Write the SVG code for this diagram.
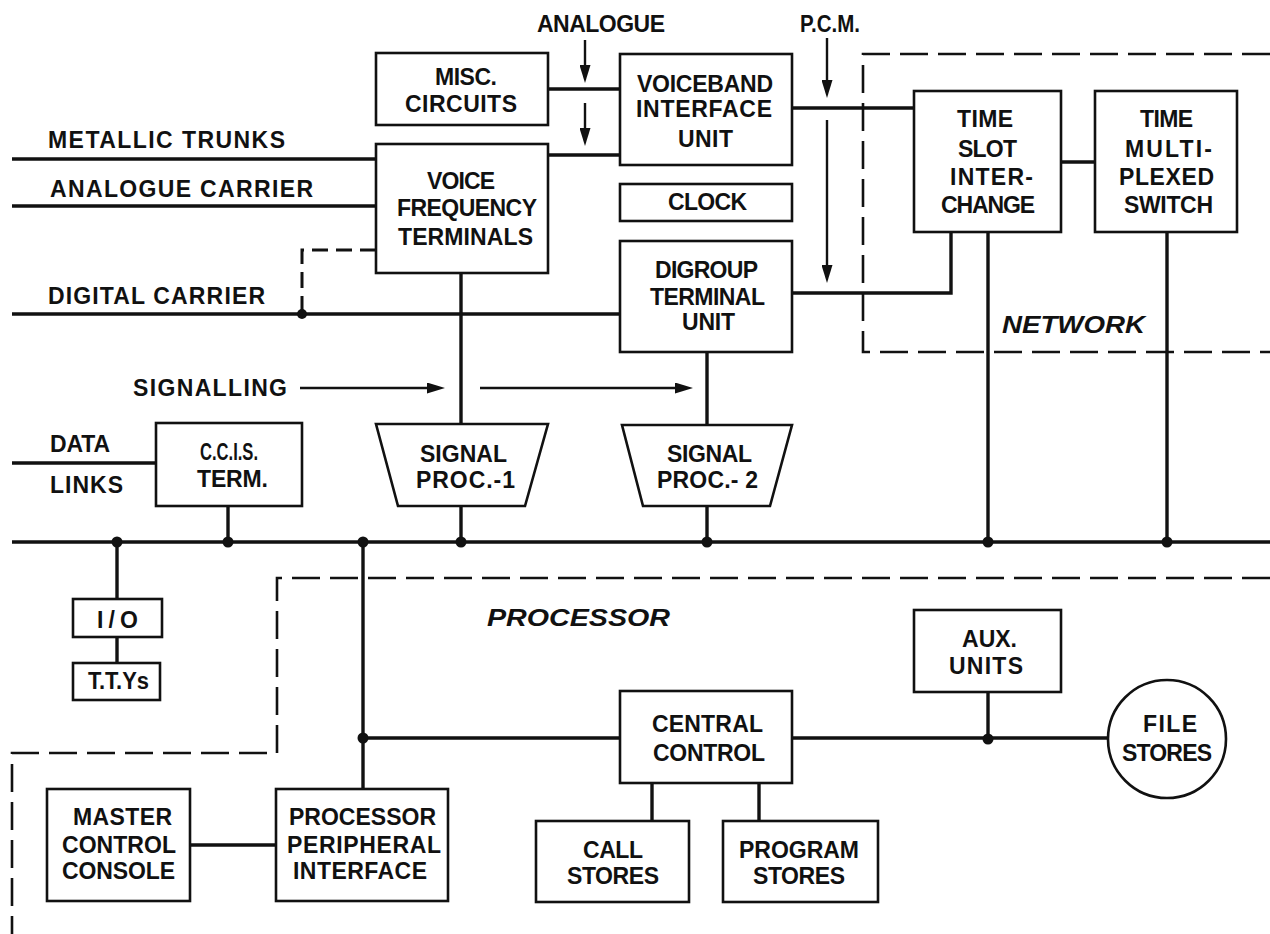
<svg xmlns="http://www.w3.org/2000/svg" width="1270" height="934" viewBox="0 0 1270 934">
<style>
  .bg { fill: #ffffff; }
  .box { fill: #ffffff; stroke: #111; stroke-width: 2.6; }
  .ln { fill: none; stroke: #111; stroke-width: 3.4; stroke-linejoin: miter; }
  .arr { fill: none; stroke: #111; stroke-width: 2.4; }
  .dash { fill: none; stroke: #111; stroke-width: 2.6; stroke-dasharray: 28 10; }
  .dash2 { fill: none; stroke: #111; stroke-width: 3; stroke-dasharray: 16 8; }
  .dot { fill: #111; }
  text { font-family: "Liberation Sans", Arial, sans-serif; font-weight: bold; font-size: 23px; fill: #111; }
  .it { font-style: italic; font-size: 24px; }
</style>
<defs>
  <marker id="ah" viewBox="0 0 18 11" refX="9" refY="5.5" markerWidth="18" markerHeight="11" markerUnits="userSpaceOnUse" orient="auto">
    <path d="M0,0 L18,5.5 L0,11 z" fill="#111"/>
  </marker>
</defs>
<rect class="bg" x="0" y="0" width="1270" height="934"/>

<g id="boundaries">
  <path class="dash" d="M1270,54 H863 V352 H1270"/>
  <path class="dash" d="M1270,578 H277 V753 H12 V934"/>
</g>

<g id="connectors">
  <path class="ln" d="M12,159 H376"/>
  <path class="ln" d="M12,206 H376"/>
  <path class="ln" d="M12,314 H620"/>
  <path class="dash2" d="M376,250 H302 V314"/>
  <path class="ln" d="M548,89 H620"/>
  <path class="ln" d="M548,155 H620"/>
  <path class="ln" d="M792,108 H914"/>
  <path class="ln" d="M792,293 H951 V232"/>
  <path class="ln" d="M1061,162 H1095"/>
  <path class="ln" d="M461,273 V424"/>
  <path class="ln" d="M461,506 V542"/>
  <path class="ln" d="M707,352 V425"/>
  <path class="ln" d="M707,506 V542"/>
  <path class="ln" d="M12,463 H156"/>
  <path class="ln" d="M228,506 V542"/>
  <path class="ln" d="M12,542 H1270"/>
  <path class="ln" d="M988,232 V542"/>
  <path class="ln" d="M1167,232 V542"/>
  <path class="ln" d="M117,542 V599"/>
  <path class="ln" d="M117,637 V663"/>
  <path class="ln" d="M363,542 V789"/>
  <path class="ln" d="M363,738 H620"/>
  <path class="ln" d="M792,738 H1108"/>
  <path class="ln" d="M652,783 V821"/>
  <path class="ln" d="M759,783 V821"/>
  <path class="ln" d="M988,692 V738"/>
  <path class="ln" d="M190,845 H276"/>
  <line class="arr" x1="585" y1="40" x2="585" y2="74" marker-end="url(#ah)"/>
  <line class="arr" x1="585" y1="103" x2="585" y2="137" marker-end="url(#ah)"/>
  <line class="arr" x1="827" y1="38" x2="827" y2="89" marker-end="url(#ah)"/>
  <line class="arr" x1="827" y1="120" x2="827" y2="274" marker-end="url(#ah)"/>
  <line class="arr" x1="300" y1="388" x2="436" y2="388" marker-end="url(#ah)"/>
  <line class="arr" x1="480" y1="388" x2="684" y2="388" marker-end="url(#ah)"/>
  <circle class="dot" cx="302" cy="314" r="5"/>
  <circle class="dot" cx="117" cy="542" r="5.5"/>
  <circle class="dot" cx="228" cy="542" r="5.5"/>
  <circle class="dot" cx="363" cy="542" r="5.5"/>
  <circle class="dot" cx="461" cy="542" r="5.5"/>
  <circle class="dot" cx="707" cy="542" r="5.5"/>
  <circle class="dot" cx="988" cy="542" r="5.5"/>
  <circle class="dot" cx="1167" cy="542" r="5.5"/>
  <circle class="dot" cx="363" cy="738" r="5.5"/>
  <circle class="dot" cx="988" cy="739" r="5.5"/>
</g>

<g id="labels">
  <text x="537" y="32" textLength="128">ANALOGUE</text>
  <text x="800" y="32" textLength="60" lengthAdjust="spacingAndGlyphs">P.C.M.</text>
  <text x="48" y="148" textLength="237">METALLIC TRUNKS</text>
  <text x="50" y="197" textLength="263">ANALOGUE CARRIER</text>
  <text x="48" y="304" textLength="217">DIGITAL CARRIER</text>
  <text x="133" y="396" textLength="154">SIGNALLING</text>
  <text x="50" y="452" textLength="60">DATA</text>
  <text x="50" y="493" textLength="73">LINKS</text>
  <text class="it" x="1002" y="333" textLength="143" lengthAdjust="spacingAndGlyphs">NETWORK</text>
  <text class="it" x="487" y="626" textLength="183" lengthAdjust="spacingAndGlyphs">PROCESSOR</text>
</g>

<g id="misc">
  <rect class="box" x="376" y="53" width="172" height="72"/>
  <text x="435" y="85" textLength="62">MISC.</text>
  <text x="405" y="112" textLength="112">CIRCUITS</text>
</g>
<g id="vft">
  <rect class="box" x="376" y="144" width="172" height="129"/>
  <text x="427" y="189" textLength="68">VOICE</text>
  <text x="397" y="216" textLength="140">FREQUENCY</text>
  <text x="398" y="245" textLength="135">TERMINALS</text>
</g>
<g id="viu">
  <rect class="box" x="620" y="54" width="172" height="111"/>
  <text x="637" y="92" textLength="136">VOICEBAND</text>
  <text x="636" y="117" textLength="136">INTERFACE</text>
  <text x="678" y="147" textLength="55">UNIT</text>
</g>
<g id="clock">
  <rect class="box" x="620" y="184" width="172" height="37"/>
  <text x="668" y="210" textLength="79">CLOCK</text>
</g>
<g id="digroup">
  <rect class="box" x="620" y="241" width="172" height="111"/>
  <text x="655" y="278" textLength="103">DIGROUP</text>
  <text x="650" y="305" textLength="115">TERMINAL</text>
  <text x="682" y="330" textLength="53">UNIT</text>
</g>
<g id="tsi">
  <rect class="box" x="914" y="91" width="147" height="141"/>
  <text x="957" y="127" textLength="56">TIME</text>
  <text x="958" y="157" textLength="59">SLOT</text>
  <text x="950" y="185" textLength="83">INTER-</text>
  <text x="941" y="213" textLength="94">CHANGE</text>
</g>
<g id="tms">
  <rect class="box" x="1095" y="91" width="142" height="141"/>
  <text x="1140" y="127" textLength="53">TIME</text>
  <text x="1125" y="157" textLength="87">MULTI-</text>
  <text x="1119" y="185" textLength="95">PLEXED</text>
  <text x="1124" y="213" textLength="89">SWITCH</text>
</g>
<g id="ccis">
  <rect class="box" x="156" y="423" width="146" height="83"/>
  <text x="200" y="460" textLength="58" lengthAdjust="spacingAndGlyphs">C.C.I.S.</text>
  <text x="197" y="487" textLength="71">TERM.</text>
</g>
<g id="sp1">
  <polygon class="box" points="376,424 548,424 525,506 398,506"/>
  <text x="420" y="462" textLength="87">SIGNAL</text>
  <text x="416" y="488" textLength="99">PROC.-1</text>
</g>
<g id="sp2">
  <polygon class="box" points="622,425 792,425 770,506 643,506"/>
  <text x="667" y="462" textLength="85">SIGNAL</text>
  <text x="657" y="488" textLength="101">PROC.- 2</text>
</g>
<g id="io">
  <rect class="box" x="73" y="599" width="89" height="38"/>
  <text x="97" y="628" textLength="41">I/O</text>
</g>
<g id="ttys">
  <rect class="box" x="73" y="663" width="87" height="37"/>
  <text x="88" y="689" textLength="61" lengthAdjust="spacingAndGlyphs">T.T.Ys</text>
</g>
<g id="mcc">
  <rect class="box" x="47" y="789" width="143" height="112"/>
  <text x="73" y="825" textLength="99">MASTER</text>
  <text x="62" y="853" textLength="114">CONTROL</text>
  <text x="62" y="879" textLength="113">CONSOLE</text>
</g>
<g id="ppi">
  <rect class="box" x="276" y="789" width="172" height="112"/>
  <text x="289" y="825" textLength="147">PROCESSOR</text>
  <text x="287" y="853" textLength="154">PERIPHERAL</text>
  <text x="293" y="879" textLength="134">INTERFACE</text>
</g>
<g id="cc">
  <rect class="box" x="620" y="691" width="172" height="92"/>
  <text x="652" y="732" textLength="111">CENTRAL</text>
  <text x="653" y="761" textLength="112">CONTROL</text>
</g>
<g id="callstores">
  <rect class="box" x="536" y="821" width="153" height="81"/>
  <text x="583" y="858" textLength="60">CALL</text>
  <text x="567" y="884" textLength="92">STORES</text>
</g>
<g id="progstores">
  <rect class="box" x="723" y="821" width="155" height="81"/>
  <text x="739" y="858" textLength="120">PROGRAM</text>
  <text x="753" y="884" textLength="92">STORES</text>
</g>
<g id="aux">
  <rect class="box" x="914" y="610" width="147" height="82"/>
  <text x="962" y="647" textLength="55">AUX.</text>
  <text x="949" y="674" textLength="74">UNITS</text>
</g>
<g id="filestores">
  <circle class="box" cx="1167" cy="739" r="59"/>
  <text x="1143" y="732" textLength="54">FILE</text>
  <text x="1122" y="761" textLength="90">STORES</text>
</g>
</svg>
